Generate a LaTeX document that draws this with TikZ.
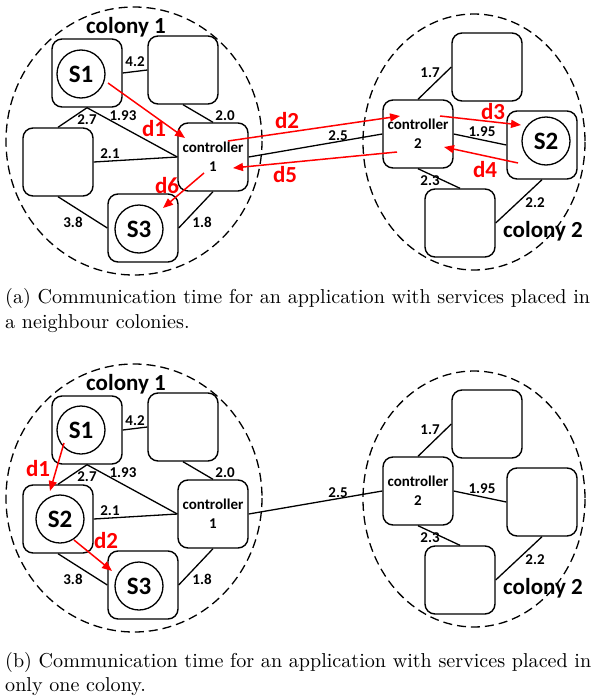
\documentclass[tikz,border=0pt]{standalone}
\usepackage{fontspec}
\usepackage{tikz}
\usetikzlibrary{calc,arrows.meta}
\newfontfamily\cali{Carlito}
\newfontfamily\capfont{lmroman10-regular.otf}

\begin{document}
\begin{tikzpicture}[x=1pt,y=-1pt,
  box/.style={draw,line width=1.4pt,rounded corners=10pt,minimum width=70pt,minimum height=68pt,inner sep=0pt},
  ctrl/.style={box,align=center,font=\cali\bfseries\fontsize{15}{19}\selectfont},
  srv/.style={draw,circle,line width=1.3pt,minimum size=48pt,inner sep=0pt,font=\cali\bfseries\fontsize{25}{25}\selectfont},
  link/.style={line width=1.3pt},
  colony/.style={line width=1.3pt,dash pattern=on 9pt off 5pt},
  colonylab/.style={anchor=base,inner sep=0pt,font=\cali\bfseries\fontsize{23}{23}\selectfont},
  num/.style={inner sep=0pt,font=\cali\bfseries\fontsize{15}{15}\selectfont},
  flow/.style={red,line width=1.5pt,-{Triangle[length=10pt,width=8pt]}},
  flowlab/.style={red,inner sep=0pt,font=\cali\bfseries\fontsize{23}{23}\selectfont},
  caption/.style={anchor=base west,inner sep=0pt,font=\capfont\fontsize{20.1}{25}\selectfont}]
\useasboundingbox (0,0) rectangle (595,699);

% (a) services in two colonies
\begin{scope}
  \draw[colony] (134,141) ellipse [x radius=128,y radius=134];
  \draw[colony] (474,142) ellipse [x radius=111,y radius=128];
  \node[colonylab] (a-col1) at (126,33) {colony 1};
  \node[colonylab] (a-col2) at (543,237) {colony 2};
  \node[box] (a-s1box) at (87,73) {}; \node[box] (a-tr) at (183,70) {}; \node[box] (a-lb) at (58,162) {};
  \node[ctrl] (a-c1) at (213,157) {controller\\1}; \node[box] (a-s3box) at (143,228) {};
  \node[box] (a-tb) at (487,67) {}; \node[ctrl] (a-c2) at (418,134) {controller\\2};
  \node[box] (a-s2box) at (542,145) {}; \node[box] (a-bb) at (460,223) {};
  \node[srv] (a-s1) at ($(a-s1box)+(-6,1)$) {S1};
  \node[srv] (a-s3) at ($(a-s3box)+(-4,1)$) {S3};
  \node[srv] (a-s2) at ($(a-s2box)+(4,-4)$) {S2};
  \draw[link] (a-s1box.east)--(a-tr.west); \draw[link] (a-tr.south)--(a-c1.north);
  \draw[link] (a-s1box.south)--(a-lb.north); \draw[link] (a-s1box.south)--(a-c1.west);
  \draw[link] (a-lb.east)--(a-c1.west); \draw[link] (a-lb.south)--(a-s3box.west);
  \draw[link] (a-c1.south)--(a-s3box.east); \draw[link] (a-c1.east)--(a-c2.west);
  \draw[link] (a-c2.north)--(a-tb.west); \draw[link] (a-c2.east)--(a-s2box.west);
  \draw[link] (a-c2.south)--(a-bb.north); \draw[link] (a-s2box.south)--(a-bb.east);
  \node[num] at (135,62) {4.2}; \node[num] at (225,116) {2.0}; \node[num] at (87,120) {2.7};
  \node[num] at (123,116) {1.93}; \node[num] at (110,154) {2.1}; \node[num] at (73,222) {3.8};
  \node[num] at (202,222) {1.8}; \node[num] at (338,136) {2.5}; \node[num] at (430,73) {1.7};
  \node[num] at (482,132) {1.95}; \node[num] at (430,181) {2.3}; \node[num] at (535,203) {2.2};
  \coordinate (a-d1s) at ($(a-s1box)+(21,10)$); \coordinate (a-d1e) at ($(a-c1)+(-28,-19)$);
  \coordinate (a-d2s) at ($(a-c1)+(15,-16)$); \coordinate (a-d2e) at ($(a-c2)+(-18,-18)$);
  \coordinate (a-d3s) at ($(a-c2)+(22,-18)$); \coordinate (a-d3e) at ($(a-s2box)+(-21,-20)$);
  \coordinate (a-d4s) at ($(a-s2box)+(-24,18)$); \coordinate (a-d4e) at ($(a-c2)+(26,13)$);
  \coordinate (a-d5s) at ($(a-c2)+(-21,18)$); \coordinate (a-d5e) at ($(a-c1)+(20,11)$);
  \coordinate (a-d6s) at ($(a-c1)+(-9,16)$); \coordinate (a-d6e) at ($(a-s3box)+(20,-20)$);
  \draw[flow] (a-d1s)--(a-d1e); \draw[flow] (a-d2s)--(a-d2e); \draw[flow] (a-d3s)--(a-d3e);
  \draw[flow] (a-d4s)--(a-d4e); \draw[flow] (a-d5s)--(a-d5e); \draw[flow] (a-d6s)--(a-d6e);
  \node[flowlab] at (154,129) {d1}; \node[flowlab] at (287,121) {d2}; \node[flowlab] at (493,112) {d3};
  \node[flowlab] at (485,170) {d4}; \node[flowlab] at (285,175) {d5}; \node[flowlab] at (167,186) {d6};
\end{scope}
\node[caption] (capa1) at (5,303) {(a) Communication time for an application with services placed in};
\node[caption] (capa2) at (5,328) {a neighbour colonies.};

% (b) services in one colony
\begin{scope}[yshift=-357pt]
  \draw[colony] (134,141) ellipse [x radius=128,y radius=134];
  \draw[colony] (474,142) ellipse [x radius=111,y radius=128];
  \node[colonylab] (b-col1) at (126,33) {colony 1};
  \node[colonylab] (b-col2) at (543,237) {colony 2};
  \node[box] (b-s1box) at (87,73) {}; \node[box] (b-tr) at (183,70) {}; \node[box] (b-lb) at (58,162) {};
  \node[ctrl] (b-c1) at (213,157) {controller\\1}; \node[box] (b-s3box) at (143,228) {};
  \node[box] (b-tb) at (487,67) {}; \node[ctrl] (b-c2) at (418,134) {controller\\2};
  \node[box] (b-rb) at (542,145) {}; \node[box] (b-bb) at (460,223) {};
  \node[srv] (b-s1) at ($(b-s1box)+(-6,0)$) {S1};
  \node[srv] (b-s2) at ($(b-lb)+(2,0)$) {S2};
  \node[srv] (b-s3) at ($(b-s3box)+(-4,1)$) {S3};
  \draw[link] (b-s1box.east)--(b-tr.west); \draw[link] (b-tr.south)--(b-c1.north);
  \draw[link] (b-s1box.south)--(b-lb.north); \draw[link] (b-s1box.south)--(b-c1.west);
  \draw[link] (b-lb.east)--(b-c1.west); \draw[link] (b-lb.south)--(b-s3box.west);
  \draw[link] (b-c1.south)--(b-s3box.east); \draw[link] (b-c1.east)--(b-c2.west);
  \draw[link] (b-c2.north)--(b-tb.west); \draw[link] (b-c2.east)--(b-rb.west);
  \draw[link] (b-c2.south)--(b-bb.north); \draw[link] (b-rb.south)--(b-bb.east);
  \node[num] at (135,64) {4.2}; \node[num] at (225,116) {2.0}; \node[num] at (87,120) {2.7};
  \node[num] at (123,116) {1.93}; \node[num] at (110,154) {2.1}; \node[num] at (73,222) {3.8};
  \node[num] at (202,222) {1.8}; \node[num] at (338,136) {2.5}; \node[num] at (430,73) {1.7};
  \node[num] at (482,132) {1.95}; \node[num] at (430,181) {2.3}; \node[num] at (535,203) {2.2};
  \coordinate (b-d1s) at ($(b-s1box)+(-23,13)$); \coordinate (b-d1e) at ($(b-lb)+(-8,-28)$);
  \coordinate (b-d2s) at ($(b-lb)+(16,21)$); \coordinate (b-d2e) at ($(b-s3box)+(-31,-14)$);
  \draw[flow] (b-d1s)--(b-d1e); \draw[flow] (b-d2s)--(b-d2e);
  \node[flowlab] at (38,112) {d1}; \node[flowlab] at (106,184) {d2};
\end{scope}
\node[caption] (capb1) at (5,667) {(b) Communication time for an application with services placed in};
\node[caption] (capb2) at (5,691) {only one colony.};
\end{tikzpicture}
\end{document}
